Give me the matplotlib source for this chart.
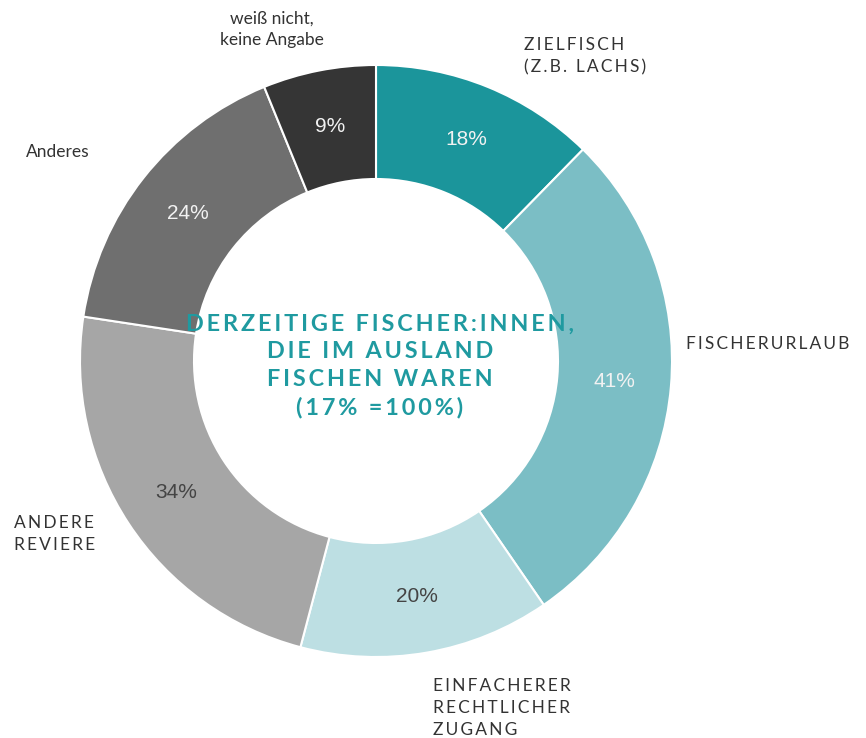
import matplotlib
matplotlib.use('Agg')
import matplotlib.pyplot as plt
import numpy as np

# answers (multiple answers possible, so the values sum to more than 100)
categories=['Zielfisch (z.B. Lachs)','Fischerurlaub','Einfacherer rechtlicher Zugang',
            'Andere Reviere','Anderes','weiß nicht, keine Angabe']
values=[18,41,20,34,24,9]
pct_labels=['18%','41%','20%','34%','24%','9%']
colors=['#1b959b','#7bbec5','#bddfe3','#a6a6a6','#6f6f6f','#353535']
pct_colors=['#f2f2f2','#f2f2f2','#444444','#444444','#f2f2f2','#f2f2f2']
center_title=['DERZEITIGE FISCHER:INNEN,','DIE IM AUSLAND','FISCHEN WAREN','(17% =100%)']

W,H=866,738
CX,CY=376,H-361
R_OUT=296
R_IN=182

def spaced(s):
    # fake letter spacing with thin spaces
    return '\u2009'.join(s)

fig=plt.figure(figsize=(W/100,H/100),dpi=100)
ax=fig.add_axes([0,0,1,1])
ax.set_xlim(0,W)
ax.set_ylim(0,H)
ax.set_aspect('equal')
ax.axis('off')

wedges,_=ax.pie(values,colors=colors,startangle=90,counterclock=False,
                radius=R_OUT,center=(CX,CY),
                wedgeprops=dict(width=R_OUT-R_IN,edgecolor='white',linewidth=1.5))
ax.set_xlim(0,W)
ax.set_ylim(0,H)

rmid=(R_OUT+R_IN)/2
for w,lab,c in zip(wedges,pct_labels,pct_colors):
    ang=np.deg2rad((w.theta1+w.theta2)/2)
    ax.text(CX+rmid*np.cos(ang),CY+rmid*np.sin(ang),lab,ha='center',va='center',
            fontsize=15,color=c,family=['Liberation Sans','DejaVu Sans'])

lab_font=dict(fontsize=12.5,color='#333333',family=['Lato','DejaVu Sans'],linespacing=1.45)
ax.text(524,H-56,spaced('ZIELFISCH')+'\n'+spaced('(Z.B. LACHS)'),ha='left',va='center',**lab_font)
ax.text(686,H-344,spaced('FISCHERURLAUB'),ha='left',va='center',**lab_font)
ax.text(433,H-708,spaced('EINFACHERER')+'\n'+spaced('RECHTLICHER')+'\n'+spaced('ZUGANG'),
        ha='left',va='center',**lab_font)
ax.text(14,H-534,spaced('ANDERE')+'\n'+spaced('REVIERE'),ha='left',va='center',**lab_font)
ax.text(26,H-152,'Anderes',ha='left',va='center',fontsize=12.5,color='#333333',family=['Lato','DejaVu Sans'])
ax.text(272,H-29,'weiß nicht,\nkeine Angabe',ha='center',va='center',fontsize=12.5,color='#333333',
        family=['Lato','DejaVu Sans'],linespacing=1.4)

ax.text(380,H-366,'\n'.join(spaced(s) for s in center_title),ha='center',va='center',
        fontsize=16.8,fontweight='bold',color='#1f9aa0',family=['Lato','DejaVu Sans'],linespacing=1.4)

fig.savefig('out.png',dpi=100)
